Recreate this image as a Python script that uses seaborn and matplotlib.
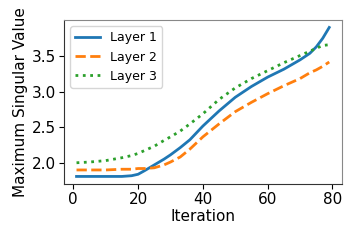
import matplotlib
matplotlib.use("Agg")
import matplotlib.pyplot as plt
import pandas as pd
import seaborn as sns

# values
iteration = [1, 5, 10, 15, 18, 20, 22, 25, 28, 30, 33, 36, 40, 45, 50, 55, 60, 65, 70, 73, 75, 77, 79]
layer1 = [1.82, 1.82, 1.82, 1.82, 1.83, 1.85, 1.90, 1.98, 2.06, 2.12, 2.22, 2.33, 2.52, 2.73, 2.92,
          3.07, 3.20, 3.31, 3.44, 3.53, 3.62, 3.74, 3.89]
layer2 = [1.91, 1.91, 1.91, 1.92, 1.92, 1.93, 1.93, 1.94, 1.98, 2.02, 2.09, 2.20, 2.37, 2.55, 2.72,
          2.85, 2.97, 3.08, 3.18, 3.26, 3.30, 3.35, 3.41]
layer3 = [2.01, 2.02, 2.04, 2.08, 2.11, 2.14, 2.18, 2.24, 2.32, 2.37, 2.45, 2.55, 2.69, 2.89, 3.05,
          3.18, 3.29, 3.40, 3.50, 3.56, 3.60, 3.64, 3.65]
layer_names = ["Layer 1", "Layer 2", "Layer 3"]

df = pd.concat([
    pd.DataFrame({"Iteration": iteration, "value": vals, "layer": name})
    for name, vals in zip(layer_names, [layer1, layer2, layer3])
])

fig = plt.figure(figsize=(3.61, 2.41), dpi=100)
ax = fig.add_axes([0.177, 0.237, 0.77, 0.68])

sns.lineplot(data=df, x="Iteration", y="value", hue="layer", style="layer",
             palette=["#1f77b4", "#ff7f0e", "#2ca02c"],
             dashes=["", (3.7, 1.6), (1, 1.65)], linewidth=2, ax=ax)

ax.set_xlabel("Iteration", fontsize=11, labelpad=2)
ax.set_ylabel("Maximum Singular Value", fontsize=11, labelpad=3)
ax.set_xticks([0, 20, 40, 60, 80])
ax.set_yticks([2.0, 2.5, 3.0, 3.5])
ax.tick_params(labelsize=11, pad=2)
for s in ax.spines.values():
    s.set_color("#888888")
ax.spines["left"].set_color("#333333")
ax.spines["bottom"].set_color("#333333")
ax.legend(loc="upper left", fontsize=9)

fig.savefig("out.png", dpi=100)
